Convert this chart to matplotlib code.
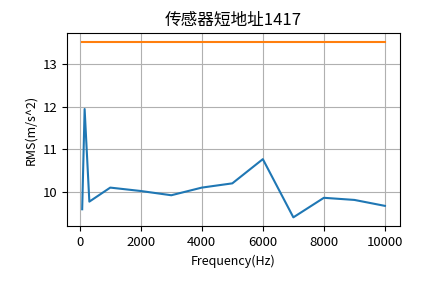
import matplotlib
matplotlib.use('Agg')
import matplotlib.pyplot as plt

plt.rcParams['font.family'] = ['Noto Sans CJK SC', 'DejaVu Sans']
plt.rcParams['axes.unicode_minus'] = False

# Data
frequencies = [80, 160, 315, 1000, 2000, 3000, 4000, 5000, 6000, 7000, 8000, 9000, 10000]
rms_values = [9.59, 11.95, 9.77, 10.10, 10.02, 9.92, 10.10, 10.20, 10.77, 9.40, 9.86, 9.81, 9.67]
threshold_freqs = [80, 10000]
threshold_values = [13.53, 13.53]

title = '传感器短地址1417'


def main():
    fig = plt.figure(figsize=(4.44, 2.83), dpi=100)
    ax = fig.add_subplot(111)
    fig.subplots_adjust(left=0.151, right=0.901, bottom=0.201, top=0.883)

    ax.plot(frequencies, rms_values)
    ax.plot(threshold_freqs, threshold_values)

    ax.set_title(title, fontsize=12)
    ax.set_xlabel('Frequency(Hz)', fontsize=9)
    ax.set_ylabel('RMS(m/s^2)', fontsize=9)
    ax.tick_params(labelsize=9.5)
    ax.grid()

    fig.savefig('out.png', dpi=100)
    plt.close(fig)


if __name__ == "__main__":
    main()
